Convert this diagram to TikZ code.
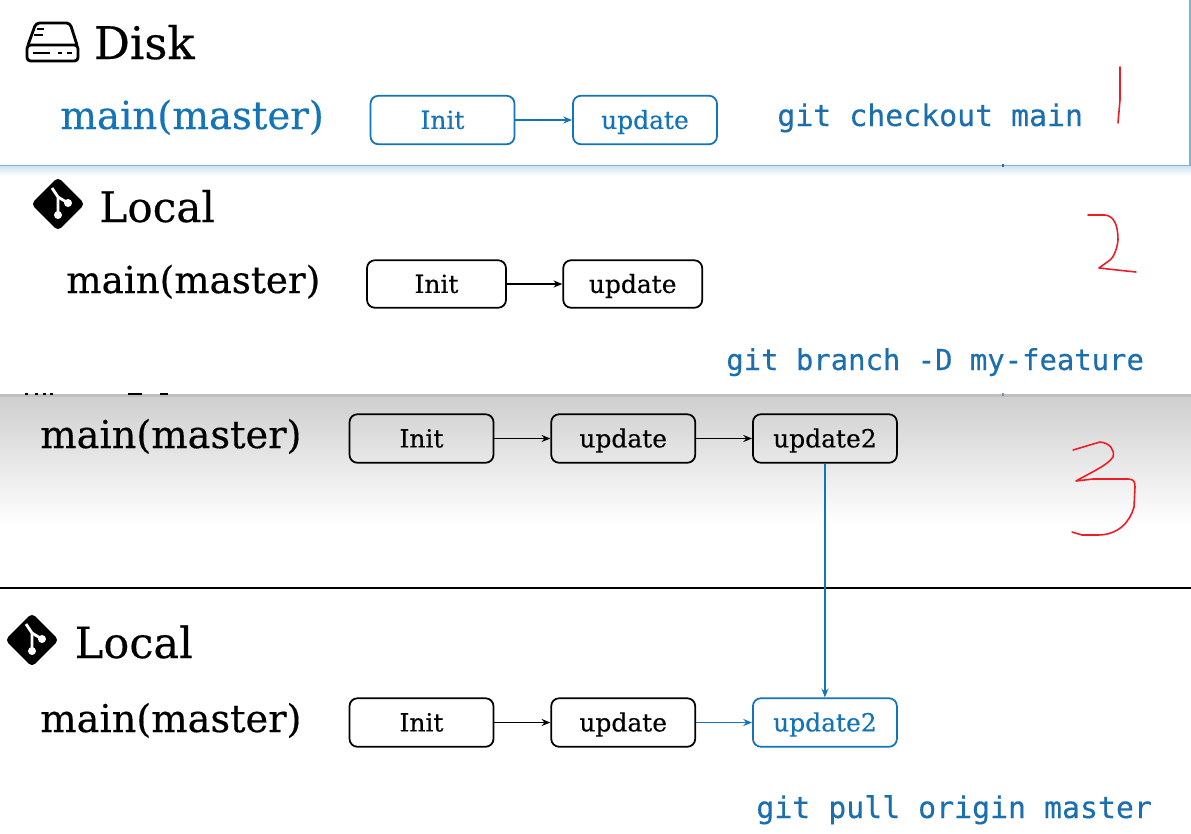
\documentclass[tikz,border=0pt]{standalone}
\usepackage{fontspec}
\setmainfont[FakeBold=0.35]{DejaVu Serif}
\setmonofont[FakeBold=0.3]{DejaVu Sans Mono}
\usetikzlibrary{positioning,arrows.meta}
\definecolor{gitblue}{HTML}{1474B8}
\definecolor{cmdblue}{HTML}{1B6FAE}
\definecolor{penred}{HTML}{EE1C25}
\tikzset{
  commit/.style={draw,rounded corners=4.5pt,line width=1pt,minimum width=2.88cm,minimum height=.97cm,inner sep=0pt,text height=2.15ex,text depth=.2ex,font=\fontsize{14.2}{14}\selectfont},
  bluecommit/.style={commit,draw=gitblue,text=gitblue},
  link/.style={-{Stealth[length=5pt,width=4pt]},line width=1pt},
  bluelink/.style={link,draw=gitblue,{-{Stealth[length=5pt,width=4pt,fill=gitblue]}}},
  title/.style={anchor=base west,inner sep=0pt,font=\fontsize{24.5}{24}\selectfont},
  branch/.style={anchor=base west,inner sep=0pt,font=\fontsize{21.8}{22}\selectfont},
  cmd/.style={anchor=base west,inner sep=0pt,text=cmdblue,font=\ttfamily\fontsize{17}{17}\selectfont},
  scribble/.style={draw=penred,line width=.9pt,line cap=round,line join=round},
  gitlogo/.pic={
    \fill[black,rounded corners=2.5pt,rotate=45] (-19,-19) rectangle (19,19);
    \draw[white,line width=1.6pt] (-6,-16) -- (0,-7) -- (0,11);
    \draw[white,line width=1.6pt] (0,-7) -- (10,-1);
    \fill[white] (0,11) circle (4) (10,-1) circle (4);
  }
}
\begin{document}
\begin{tikzpicture}[x=.02cm,y=-.02cm]
\useasboundingbox (0,0) rectangle (1191,833);
\fill[white] (0,0) rectangle (1191,833);
% gray band
\shade[top color=gray!38,bottom color=white] (0,395) rectangle (1191,525);
\fill[black!25] (0,394) rectangle (1191,397);
\foreach \xa/\xb in {25/28,35/38,43/46,50/53,128/142,160/168}
  \fill (\xa,393) rectangle (\xb,395);
\shade[top color=gitblue!20,bottom color=white] (0,166) rectangle (1191,176);
\draw[gitblue!55,line width=.9pt] (0,165.5) -- (1190,165.5) -- (1190,0);
\fill[cmdblue] (1001.5,164) rectangle (1004,167);
\fill[cmdblue!70] (1001.5,393) rectangle (1004,396);
\draw[line width=1.2pt] (0,588) -- (1191,588);
% disk icon
\begin{scope}[line width=1.6pt,rounded corners=2pt,line join=round]
\draw (28,45) -- (36,23) -- (70,23) -- (77,45);
\draw (27,45) rectangle (78,61);
\draw (34,35) -- (43,35) (37,29) -- (44,29);
\draw (33,53) -- (50,53) (58,53) -- (62,53) (67,53) -- (72,53);
\end{scope}
\node[title,font=\fontsize{25.6}{26}\selectfont] (disk) at (93.5,59) {Disk};
\node[branch,text=gitblue,font=\fontsize{22}{22}\selectfont] (mainA) at (60,129) {main(master)};
\node[bluecommit] (initA) at (442.5,120) {Init};
\node[bluecommit,right=1.135cm of initA] (updateA) {update};
\draw[bluelink] (initA) -- (updateA);
\node[cmd] (cmdA) at (777,126) {git checkout main};
% second block
\path (58,204) pic {gitlogo};
\node[title,font=\fontsize{24}{24}\selectfont] (localB) at (99,222) {Local};
\node[branch,font=\fontsize{21.2}{21}\selectfont] (mainB) at (66,293) {main(master)};
\node[commit,minimum width=2.78cm,minimum height=.95cm] (initB) at (436.5,284) {Init};
\node[commit,minimum width=2.78cm,minimum height=.95cm,right=1.11cm of initB] (updateB) {update};
\draw[link] (initB) -- (updateB);
\node[cmd,font=\ttfamily\fontsize{16.45}{17}\selectfont] (cmdB) at (726,370) {git branch -D my-feature};
% third block
\node[branch] (mainC) at (40,448) {main(master)};
\node[commit] (initC) at (421.5,438.5) {Init};
\node[commit,right=1.12cm of initC] (updateC) {update};
\node[commit,right=1.12cm of updateC] (updatetwoC) {update2};
\draw[link] (initC) -- (updateC);
\draw[link] (updateC) -- (updatetwoC);
% fourth block
\path (32,640) pic {gitlogo};
\node[title] (localD) at (74.5,658) {Local};
\node[branch] (mainD) at (40,732) {main(master)};
\node[commit] (initD) at (421.5,722.5) {Init};
\node[commit,right=1.12cm of initD] (updateD) {update};
\node[bluecommit,right=1.12cm of updateD] (updatetwoD) {update2};
\draw[link] (initD) -- (updateD);
\draw[bluelink] (updateD) -- (updatetwoD);
\draw[bluelink] (updatetwoC) -- (updatetwoD);
\node[cmd] (cmdD) at (756,818) {git pull origin master};
% red numbers
\draw[scribble] (1120,67) -- (1120,100) -- (1118,123);
\draw[scribble] (1088,215) -- (1105,215) .. controls (1114,216) and (1118,225) .. (1118,240) .. controls (1117,250) and (1113,258) .. (1110,260) -- (1099,268) -- (1117,270) -- (1136,272);
\draw[scribble] (1073,450) -- (1100,442) .. controls (1110,443) and (1115,450) .. (1113,457) .. controls (1108,465) and (1090,473) .. (1076,481) -- (1093,479) -- (1128,479) .. controls (1134,479) and (1135,482) .. (1135,487) -- (1134,507) .. controls (1130,522) and (1118,535) .. (1098,535) -- (1082,535) -- (1072,532);
\end{tikzpicture}
\end{document}
